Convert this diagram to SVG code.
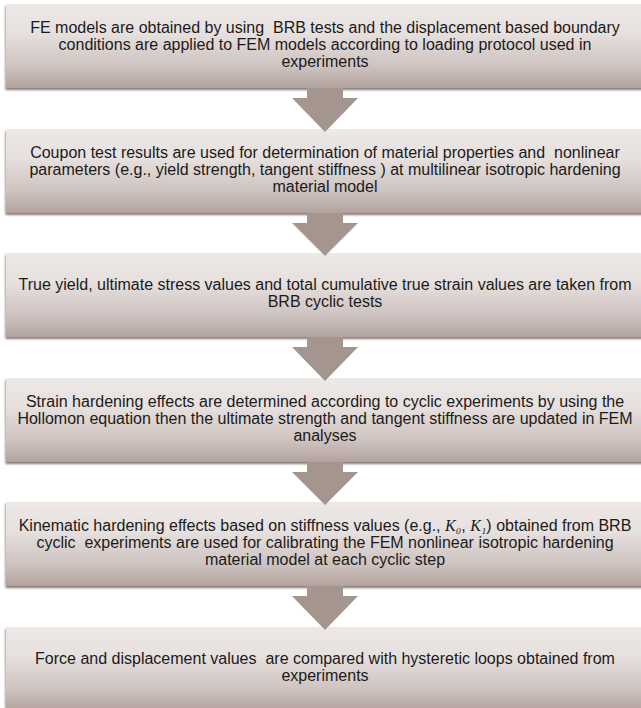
<svg xmlns="http://www.w3.org/2000/svg" width="641" height="708" viewBox="0 0 641 708">
  <style>
    .box { fill: url(#boxGrad); filter: url(#shadow); }
    .arrow { fill: #a5958f; filter: url(#soft); }
    .label { font-family: "Liberation Sans", Arial, sans-serif; font-size: 16px; fill: #1c1a1a; text-anchor: middle; white-space: pre; }
    .math { font-family: "Liberation Serif", "Times New Roman", serif; font-style: italic; }
  </style>
  <defs>
    <linearGradient id="boxGrad" x1="0" y1="0" x2="0" y2="1">
      <stop offset="0" stop-color="#ede9e7"/>
      <stop offset="0.35" stop-color="#e6e0de"/>
      <stop offset="0.75" stop-color="#cdc2bf"/>
      <stop offset="1" stop-color="#b3a29d"/>
    </linearGradient>
    <filter id="shadow" x="-5%" y="-10%" width="110%" height="125%">
      <feDropShadow dx="-0.5" dy="2" stdDeviation="1" flood-color="#5e4e4a" flood-opacity="0.75"/>
    </filter>
    <filter id="soft" x="-10%" y="-10%" width="120%" height="120%">
      <feGaussianBlur stdDeviation="0.6"/>
    </filter>
  </defs>

  <g id="node1">
    <rect class="box" x="6" y="4" width="640" height="84"/>
    <text class="label" x="325" y="33">FE models are obtained by using  BRB tests and the displacement based boundary</text>
    <text class="label" x="325" y="50">conditions are applied to FEM models according to loading protocol used in</text>
    <text class="label" x="325" y="67">experiments</text>
  </g>
  <g id="node2">
    <rect class="box" x="6" y="129" width="640" height="84"/>
    <text class="label" x="325" y="158">Coupon test results are used for determination of material properties and  nonlinear</text>
    <text class="label" x="325" y="175">parameters (e.g., yield strength, tangent stiffness ) at multilinear isotropic hardening</text>
    <text class="label" x="325" y="192">material model</text>
  </g>
  <g id="node3">
    <rect class="box" x="6" y="253" width="640" height="84"/>
    <text class="label" x="325" y="290">True yield, ultimate stress values and total cumulative true strain values are taken from</text>
    <text class="label" x="325" y="307">BRB cyclic tests</text>
  </g>
  <g id="node4">
    <rect class="box" x="6" y="378" width="640" height="84"/>
    <text class="label" x="325" y="407">Strain hardening effects are determined according to cyclic experiments by using the</text>
    <text class="label" x="325" y="424">Hollomon equation then the ultimate strength and tangent stiffness are updated in FEM</text>
    <text class="label" x="325" y="441">analyses</text>
  </g>
  <g id="node5">
    <rect class="box" x="6" y="502" width="640" height="84"/>
    <text class="label" x="325" y="531">Kinematic hardening effects based on stiffness values (e.g., <tspan class="math">K₀</tspan>, <tspan class="math">K₁</tspan>) obtained from BRB</text>
    <text class="label" x="325" y="548">cyclic  experiments are used for calibrating the FEM nonlinear isotropic hardening</text>
    <text class="label" x="325" y="565">material model at each cyclic step</text>
  </g>
  <g id="node6">
    <rect class="box" x="6" y="627" width="640" height="84"/>
    <text class="label" x="325" y="664">Force and displacement values  are compared with hysteretic loops obtained from</text>
    <text class="label" x="325" y="681">experiments</text>
  </g>

  <g id="connectors">
    <path class="arrow" d="M307 88 H343 V98 H358 L325 132 L292 98 H307 Z"/>
    <path class="arrow" d="M307 213 H343 V223 H358 L325 256 L292 223 H307 Z"/>
    <path class="arrow" d="M307 337 H343 V347 H358 L325 381 L292 347 H307 Z"/>
    <path class="arrow" d="M307 462 H343 V472 H358 L325 505 L292 472 H307 Z"/>
    <path class="arrow" d="M307 586 H343 V596 H358 L325 630 L292 596 H307 Z"/>
  </g>
</svg>
